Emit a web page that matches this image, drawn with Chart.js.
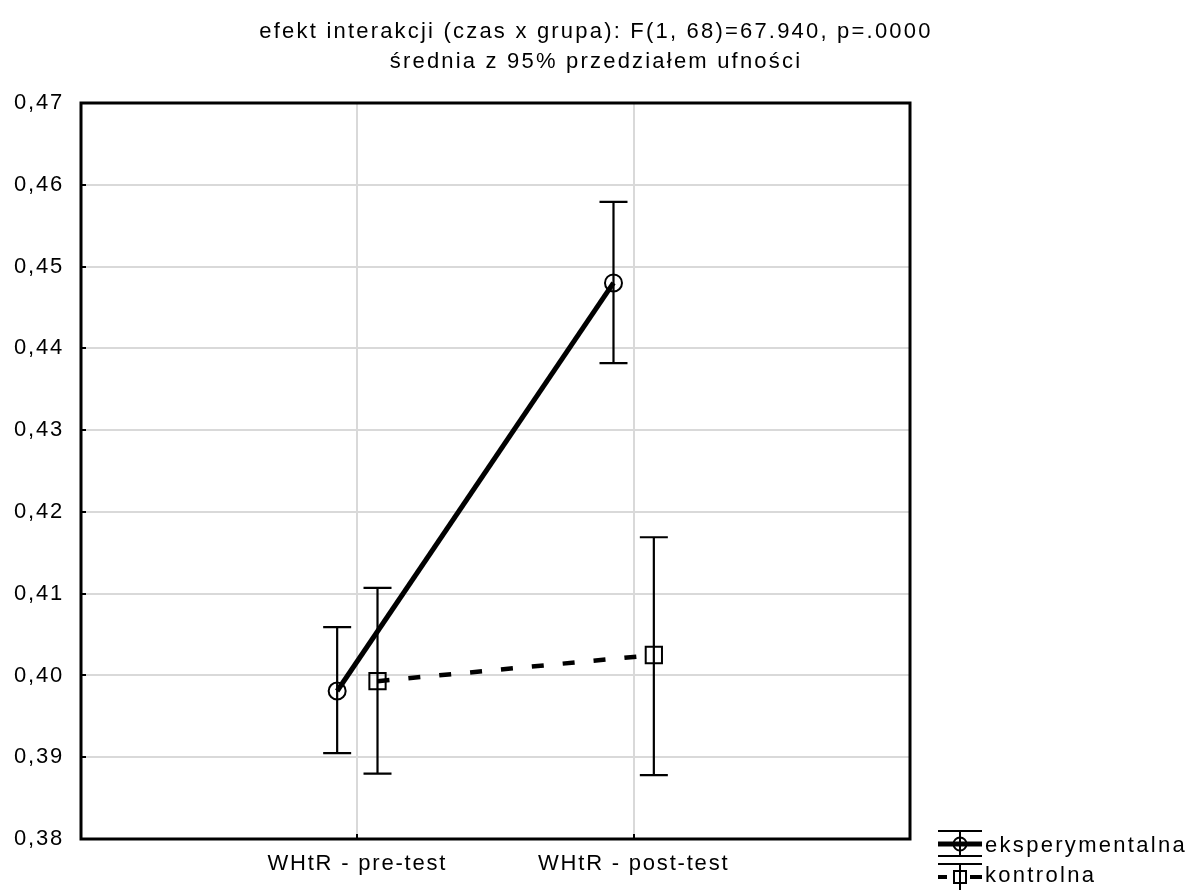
<!DOCTYPE html>
<html>
<head>
<meta charset="utf-8">
<script src="https://cdn.jsdelivr.net/npm/chart.js@4.4.1/dist/chart.umd.min.js"></script>
<style>
  html, body { margin: 0; padding: 0; background: #fff; }
  #wrap { width: 1193px; height: 890px; }
</style>
</head>
<body>
<div id="wrap"><canvas id="chart" width="1193" height="890"></canvas></div>
<script>
// dane
const categories = ['WHtR - pre-test', 'WHtR - post-test'];
const groups = ['eksperymentalna', 'kontrolna'];

const eksMean = [0.3981, 0.4480];
const eksLower = [0.3905, 0.4382];
const eksUpper = [0.4059, 0.4579];

const kontMean = [0.3993, 0.4025];
const kontLower = [0.3880, 0.3878];
const kontUpper = [0.4107, 0.4169];

const titleLines = [
    'efekt interakcji (czas x grupa): F(1, 68)=67.940, p=.0000',
    'średnia z 95% przedziałem ufności'
];

const SHIFT = 0.073; // przesunięcie grup wzdłuż osi X
const FONT = '"Liberation Sans", Arial, sans-serif';
const GRID = '#d9d9d9';

function toPoints(values, shift) {
    return values.map((v, i) => ({ x: i + 1 + shift, y: v }));
}

// przedziały ufności + ramka + tytuł + legenda
const customDraw = {
    id: 'customDraw',
    beforeDraw(chart) {
        // szeroki odstęp liter jak w oryginale
        chart.ctx.letterSpacing = '1.8px';
    },
    beforeDatasetsDraw(chart) {
        const { ctx, chartArea: a } = chart;
        const xs = chart.scales.x, ys = chart.scales.y;
        ctx.save();
        ctx.strokeStyle = '#000';
        ctx.lineWidth = 3;
        ctx.strokeRect(a.left, a.top, a.right - a.left, a.bottom - a.top);
        // małe znaczniki do środka
        ctx.lineWidth = 2;
        ctx.beginPath();
        ys.ticks.forEach(t => {
            const y = Math.round(ys.getPixelForValue(t.value));
            ctx.moveTo(a.left, y); ctx.lineTo(a.left + 5, y);
        });
        xs.ticks.forEach(t => {
            const x = Math.round(xs.getPixelForValue(t.value));
            ctx.moveTo(x, a.bottom); ctx.lineTo(x, a.bottom - 5);
        });
        ctx.stroke();

        const bars = [
            [eksLower, eksUpper, -SHIFT],
            [kontLower, kontUpper, SHIFT]
        ];
        ctx.lineWidth = 2.2;
        bars.forEach(([lo, hi, sh]) => {
            lo.forEach((l, i) => {
                const x = xs.getPixelForValue(i + 1 + sh);
                const y1 = ys.getPixelForValue(l);
                const y2 = ys.getPixelForValue(hi[i]);
                ctx.beginPath();
                ctx.moveTo(x, y1); ctx.lineTo(x, y2);
                ctx.moveTo(x - 14, y1); ctx.lineTo(x + 14, y1);
                ctx.moveTo(x - 14, y2); ctx.lineTo(x + 14, y2);
                ctx.stroke();
            });
        });
        ctx.restore();
    },
    afterDraw(chart) {
        const { ctx } = chart;
        ctx.save();
        // tytuł
        ctx.fillStyle = '#000';
        ctx.font = '22px ' + FONT;
        ctx.textBaseline = 'middle';
        ctx.textAlign = 'center';
        ctx.letterSpacing = '2.2px';
        ctx.fillText(titleLines[0], 596, 32);
        ctx.fillText(titleLines[1], 596, 62);

        ctx.strokeStyle = '#000';
        const x0 = 938, x1 = 982, xc = 960;
        // eksperymentalna
        let y = 844;
        ctx.lineWidth = 2;
        ctx.beginPath();
        ctx.moveTo(x0, y - 13); ctx.lineTo(x1, y - 13);
        ctx.moveTo(x0, y + 12); ctx.lineTo(x1, y + 12);
        ctx.moveTo(xc, y - 13); ctx.lineTo(xc, y + 12);
        ctx.stroke();
        ctx.lineWidth = 5;
        ctx.beginPath(); ctx.moveTo(x0, y); ctx.lineTo(x1, y); ctx.stroke();
        ctx.lineWidth = 2;
        ctx.beginPath(); ctx.arc(xc, y, 6.5, 0, Math.PI * 2); ctx.stroke();
        // kontrolna
        y = 877;
        ctx.lineWidth = 2;
        ctx.beginPath();
        ctx.moveTo(x0, y - 13); ctx.lineTo(x1, y - 13);
        ctx.moveTo(xc, y - 13); ctx.lineTo(xc, y + 13);
        ctx.stroke();
        ctx.lineWidth = 4;
        ctx.beginPath();
        ctx.moveTo(x0, y); ctx.lineTo(x0 + 9, y);
        ctx.moveTo(x1 - 12, y); ctx.lineTo(x1, y);
        ctx.stroke();
        ctx.lineWidth = 2;
        ctx.strokeRect(xc - 6, y - 6, 12, 12);
        ctx.textAlign = 'left';
        ctx.letterSpacing = '2.3px';
        ctx.fillText(groups[0], 985, 846);
        ctx.fillText(groups[1], 985, 876);
        ctx.restore();
    }
};

Chart.defaults.color = '#000';
Chart.defaults.font.family = FONT;

new Chart(document.getElementById('chart'), {
    type: 'line',
    data: {
        datasets: [
            {
                label: groups[0],
                data: toPoints(eksMean, -SHIFT),
                borderColor: '#000',
                borderWidth: 5,
                pointStyle: 'circle',
                pointRadius: 8.5,
                pointBorderWidth: 2,
                pointBorderColor: '#000',
                pointBackgroundColor: 'rgba(0,0,0,0)'
            },
            {
                label: groups[1],
                data: toPoints(kontMean, SHIFT),
                borderColor: '#000',
                borderWidth: 4.5,
                borderDash: [12, 19],
                pointStyle: 'rect',
                pointRadius: 11.5,
                pointBorderWidth: 2,
                pointBorderColor: '#000',
                pointBackgroundColor: 'rgba(0,0,0,0)'
            }
        ]
    },
    options: {
        responsive: false,
        animation: false,
        layout: { padding: { left: 0, right: 283, top: 103, bottom: 0 } },
        plugins: {
            legend: { display: false },
            tooltip: { enabled: false },
            title: { display: false }
        },
        scales: {
            x: {
                type: 'linear',
                min: 0,
                max: 3,
                afterBuildTicks: s => { s.ticks = categories.map((c, i) => ({ value: i + 1 })); },
                afterFit: s => { s.height = 51; },
                ticks: {
                    font: { size: 22 },
                    padding: 12,
                    maxRotation: 0,
                    callback: v => categories[v - 1]
                },
                grid: { color: GRID, lineWidth: 2, drawTicks: false },
                border: { display: false }
            },
            y: {
                min: 0.38,
                max: 0.47,
                afterFit: s => { s.width = 81; },
                ticks: {
                    stepSize: 0.01,
                    font: { size: 22 },
                    padding: 17,
                    callback: v => v.toFixed(2).replace('.', ',')
                },
                grid: { color: GRID, lineWidth: 2, drawTicks: false },
                border: { display: false }
            }
        }
    },
    plugins: [customDraw]
});
</script>
</body>
</html>
